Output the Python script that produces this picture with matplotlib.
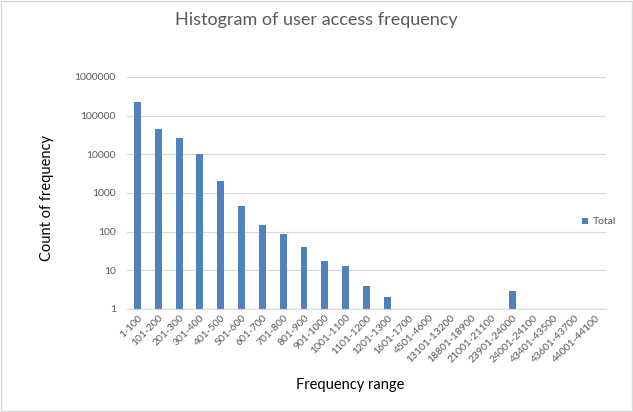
import matplotlib.pyplot as plt
from matplotlib.patches import Rectangle

plt.rcParams['font.family'] = ['Lato', 'DejaVu Sans']

ranges = ["1-100", "101-200", "201-300", "301-400", "401-500", "501-600",
          "601-700", "701-800", "801-900", "901-1000", "1001-1100",
          "1101-1200", "1201-1300", "1601-1700", "4501-4600", "13101-13200",
          "18801-18900", "21001-21100", "23901-24000", "24001-24100",
          "43401-43500", "43601-43700", "44001-44100"]
counts = [230000, 46000, 27000, 10000, 2100, 470, 145, 85, 41, 17, 13,
          4, 2, 1, 1, 1, 1, 1, 3, 1, 1, 1, 1]

grey = "#595959"
bar_color = "#4f81bd"
W, H = 633, 412

fig = plt.figure(figsize=(W / 100, H / 100), dpi=100)
ax = fig.add_axes([127 / W, 1 - 309 / H, 479 / W, 232 / H])

x = list(range(len(ranges)))
ax.bar(x, counts, width=0.33, color=bar_color, label="Total")
ax.set_yscale("log")
ax.set_ylim(1, 1000000)
ax.set_xlim(-0.5, len(ranges) - 0.5)
ax.set_yticks([1, 10, 100, 1000, 10000, 100000, 1000000])
ax.set_yticklabels(["1", "10", "100", "1000", "10000", "100000", "1000000"])
ax.minorticks_off()
ax.yaxis.grid(True, color="#d9d9d9", linewidth=0.9)
ax.set_axisbelow(True)
for s in ["top", "right", "left"]:
    ax.spines[s].set_visible(False)
ax.spines["bottom"].set_color("#d9d9d9")
ax.tick_params(axis="y", length=0, labelsize=7.5, colors=grey, pad=8)
ax.tick_params(axis="x", length=0, labelsize=7.5, colors=grey, pad=3)
ax.set_xticks(x)
ax.set_xticklabels(ranges, rotation=45, ha="right", rotation_mode="anchor")

fig.text(47 / W, 1 - 198 / H, "Count of frequency", fontsize=10.5,
         rotation=90, ha="center", va="center", color="black")
fig.text(350 / W, 1 - 385 / H, "Frequency range", fontsize=10.5,
         ha="center", va="center", color="black")
fig.text(316 / W, 1 - 20 / H, "Histogram of user access frequency",
         fontsize=13, color=grey, ha="center", va="center")

ax.legend(loc="center left", bbox_to_anchor=(582 / W, 1 - 222 / H),
          bbox_transform=fig.transFigure, frameon=False,
          fontsize=7.5, labelcolor=grey, handlelength=0.6, handleheight=0.6,
          handletextpad=0.4, borderaxespad=0, borderpad=0)

fig.patches.append(Rectangle((0.002, 0.002), 0.996, 0.996,
                             transform=fig.transFigure, fill=False,
                             edgecolor="#d9d9d9", linewidth=1))

fig.savefig("out.png", dpi=100)
